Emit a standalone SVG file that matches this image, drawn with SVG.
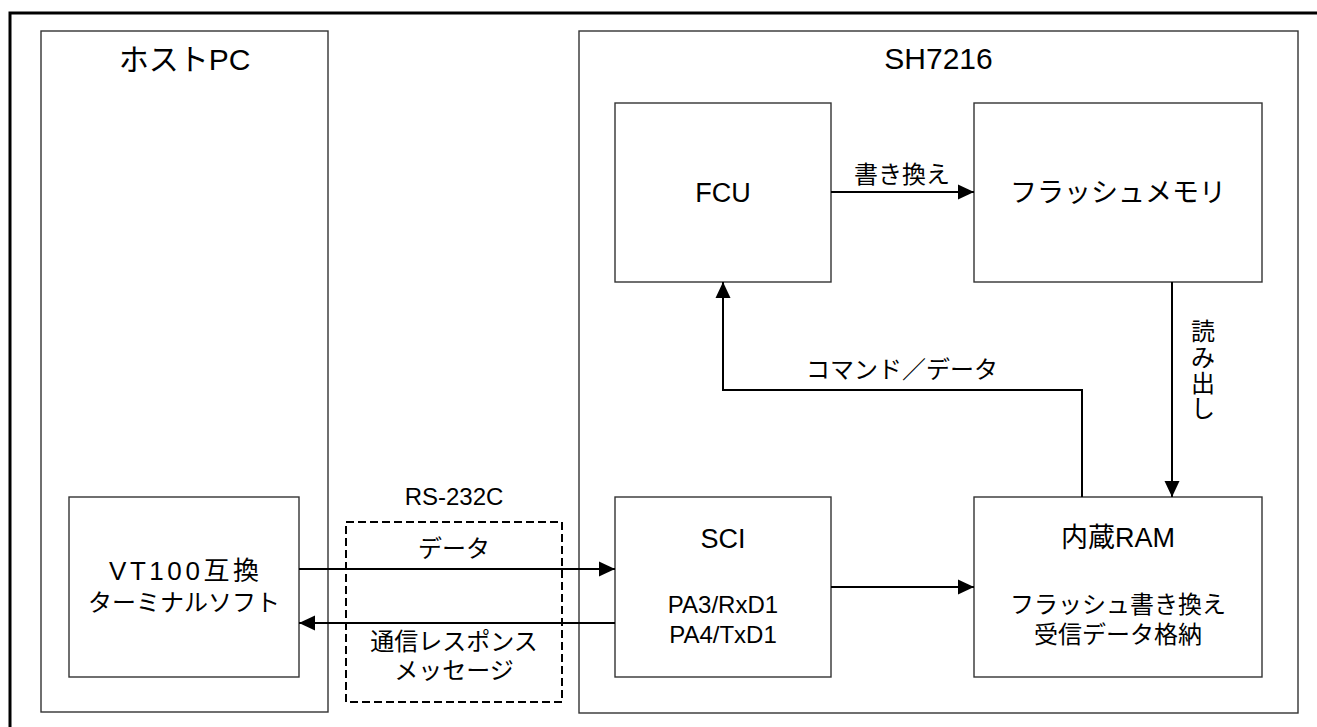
<svg xmlns="http://www.w3.org/2000/svg" width="1317" height="727" viewBox="0 0 1317 727">
<style>
  .box { fill: #ffffff; stroke: #333333; stroke-width: 1.4; }
  .dash { fill: none; stroke: #000000; stroke-width: 2; stroke-dasharray: 8 4; }
  .wire { fill: none; stroke: #000000; stroke-width: 2; }
  text { font-family: "Liberation Sans", "Noto Sans CJK JP", sans-serif; fill: #000000; text-anchor: middle; }
  .t30 { font-size: 30px; }
  .t27 { font-size: 27px; }
  .t26 { font-size: 26px; }
  .t24 { font-size: 24px; }
</style>
<defs>
  <marker id="arr" markerWidth="16" markerHeight="16" refX="16" refY="8" orient="auto" markerUnits="userSpaceOnUse">
    <path d="M0,0.5 L16,8 L0,15.5 Z" fill="#000000"/>
  </marker>
</defs>
<rect x="0" y="0" width="1317" height="727" fill="#ffffff"/>
<path d="M10,727 V13 H1317" fill="none" stroke="#000000" stroke-width="3"/>

<g id="hostpc">
  <rect class="box" x="41" y="31" width="287" height="681"/>
  <text class="t30" x="184.5" y="70">ホストPC</text>
</g>
<g id="sh7216">
  <rect class="box" x="579" y="31" width="719" height="682"/>
  <text class="t30" x="938.5" y="69">SH7216</text>
</g>
<g id="vt100">
  <rect class="box" x="69" y="497" width="230" height="180"/>
  <text class="t26" x="184" y="580" textLength="150" lengthAdjust="spacing">VT100互換</text>
  <text class="t24" x="184" y="611">ターミナルソフト</text>
</g>
<g id="rs232c">
  <rect class="dash" x="346" y="522" width="216" height="180"/>
  <text class="t24" x="454" y="505">RS-232C</text>
</g>
<g id="fcu">
  <rect class="box" x="615" y="103" width="216" height="179"/>
  <text class="t27" x="723" y="202">FCU</text>
</g>
<g id="flash">
  <rect class="box" x="974" y="103" width="288" height="179"/>
  <text class="t27" x="1118" y="202">フラッシュメモリ</text>
</g>
<g id="sci">
  <rect class="box" x="615" y="497" width="216" height="180"/>
  <text class="t27" x="723" y="548">SCI</text>
  <text class="t24" x="723" y="613">PA3/RxD1</text>
  <text class="t24" x="723" y="643">PA4/TxD1</text>
</g>
<g id="ram">
  <rect class="box" x="974" y="497" width="288" height="180"/>
  <text class="t27" x="1118" y="547">内蔵RAM</text>
  <text class="t24" x="1118" y="613">フラッシュ書き換え</text>
  <text class="t24" x="1118" y="643">受信データ格納</text>
</g>

<g id="connectors">
  <line class="wire" x1="831" y1="192" x2="974" y2="192" marker-end="url(#arr)"/>
  <text class="t24" x="902" y="183">書き換え</text>
  <line class="wire" x1="1172" y1="282" x2="1172" y2="497" marker-end="url(#arr)"/>
  <text class="t24" x="1203"><tspan x="1203" y="340">読</tspan><tspan x="1203" y="366">み</tspan><tspan x="1203" y="392">出</tspan><tspan x="1203" y="417">し</tspan></text>
  <path class="wire" d="M1082,497 V390 H723 V282" marker-end="url(#arr)"/>
  <text class="t24" x="902" y="378">コマンド／データ</text>
  <line class="wire" x1="299" y1="569" x2="615" y2="569" marker-end="url(#arr)"/>
  <text class="t24" x="454" y="557">データ</text>
  <line class="wire" x1="615" y1="623" x2="299" y2="623" marker-end="url(#arr)"/>
  <text class="t24" x="454" y="650">通信レスポンス</text>
  <text class="t24" x="454" y="679">メッセージ</text>
  <line class="wire" x1="831" y1="587" x2="974" y2="587" marker-end="url(#arr)"/>
</g>
</svg>
